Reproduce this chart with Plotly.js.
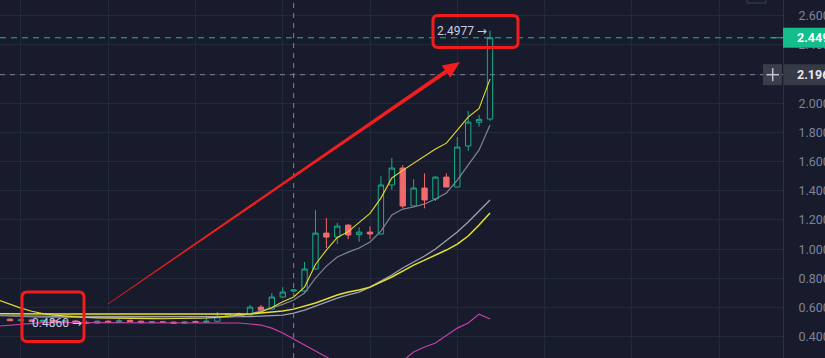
<!DOCTYPE html>
<html><head><meta charset="utf-8">
<script src="https://cdn.plot.ly/plotly-3.0.1.min.js"></script>
<style>html,body{margin:0;padding:0;background:#171b2c;overflow:hidden}#chart{width:825px;height:358px}</style>
</head><body><div id="chart"></div>
<script>
// ---- data ----
const candleIndex = [1,2,3,4,5,6,7,8,9,10,11,12,13,14,15,16,17,18,19,20,21,22,23,24,25,26,27,28,29,30,31,32,33,34,35,36,37,38,39,40,41,42,43,44,45];
const opens  = [0.520,0.510,0.515,0.505,0.512,0.503,0.508,0.498,0.494,0.506,0.500,0.512,0.506,0.496,0.502,0.500,0.493,0.504,0.499,0.506,0.540,0.558,
                0.549,0.603,0.589,0.672,0.713,0.713,0.864,1.110,1.083,1.165,1.100,1.117,1.104,1.440,1.556,1.296,1.419,1.344,1.494,1.426,1.707,1.870,1.892];
const highs  = [0.526,0.521,0.520,0.518,0.516,0.514,0.512,0.510,0.512,0.512,0.522,0.518,0.510,0.508,0.506,0.504,0.505,0.510,0.545,0.570,0.562,0.565,
                0.617,0.617,0.699,0.740,0.722,0.912,1.268,1.213,1.180,1.170,1.150,1.157,1.500,1.625,1.577,1.480,1.520,1.500,1.520,1.769,1.947,1.920,2.4977];
const lows   = [0.506,0.503,0.500,0.498,0.495,0.492,0.490,0.486,0.490,0.496,0.498,0.500,0.490,0.492,0.494,0.489,0.490,0.496,0.497,0.503,0.535,0.546,
                0.545,0.562,0.585,0.665,0.705,0.700,0.860,1.008,1.035,1.069,1.050,1.069,1.100,1.406,1.282,1.290,1.280,1.330,1.426,1.426,1.673,1.840,1.880];
const closes = [0.510,0.515,0.505,0.512,0.503,0.508,0.498,0.494,0.506,0.500,0.508,0.504,0.496,0.502,0.498,0.493,0.500,0.499,0.506,0.540,0.556,0.550,
                0.603,0.582,0.672,0.706,0.720,0.864,1.110,1.083,1.158,1.097,1.117,1.104,1.440,1.556,1.296,1.419,1.337,1.494,1.426,1.700,1.871,1.890,2.449];

const maIndex = [0,1,2,3,4,5,6,7,8,9,10,11,12,13,14,15,16,17,18,19,20,21,22,23,24,25,26,27,28,29,30,31,32,33,34,35,36,37,38,39,40,41,42,43,44,45];
const maFast  = [0.650,0.622,0.596,0.574,0.558,0.548,0.541,0.536,0.532,0.529,0.527,0.526,0.526,0.525,0.524,0.523,0.523,0.524,0.526,0.528,0.533,0.540,0.547,
                 0.556,0.569,0.600,0.640,0.672,0.740,0.895,0.994,1.080,1.120,1.180,1.245,1.350,1.488,1.540,1.590,1.640,1.686,1.727,1.816,1.905,1.965,2.166];
const maMid   = [0.548,0.543,0.539,0.536,0.534,0.533,0.532,0.531,0.530,0.530,0.529,0.529,0.529,0.528,0.528,0.527,0.527,0.527,0.527,0.528,0.530,0.534,0.540,
                 0.556,0.575,0.598,0.622,0.651,0.699,0.802,0.884,0.946,0.980,1.008,1.049,1.124,1.234,1.275,1.289,1.310,1.344,1.385,1.474,1.577,1.680,1.851];
const maSlow  = [0.545,0.543,0.542,0.541,0.540,0.540,0.539,0.539,0.538,0.538,0.537,0.537,0.536,0.536,0.536,0.535,0.535,0.535,0.535,0.535,0.535,0.536,0.537,
                 0.538,0.541,0.543,0.548,0.562,0.582,0.610,0.637,0.665,0.686,0.706,0.740,0.782,0.823,0.871,0.912,0.953,1.001,1.056,1.117,1.186,1.261,1.337];
const maTrend = [0.558,0.557,0.557,0.556,0.556,0.556,0.556,0.556,0.556,0.556,0.556,0.556,0.556,0.556,0.556,0.556,0.556,0.556,0.556,0.556,0.556,0.556,0.556,
                 0.556,0.562,0.569,0.576,0.589,0.610,0.631,0.658,0.686,0.706,0.720,0.740,0.775,0.809,0.850,0.891,0.925,0.960,0.994,1.035,1.090,1.165,1.248];
const maPink  = [0.473,0.480,0.487,0.493,0.496,0.497,0.497,0.497,0.497,0.497,0.497,0.497,0.497,0.497,0.497,0.497,0.497,0.497,0.497,0.497,0.497,0.496,0.494,
                 0.487,0.480,0.459,0.425,0.384,0.343,0.302,0.261,0.220,0.190,0.172,0.168,0.178,0.200,0.235,0.295,0.329,0.357,0.405,0.459,0.494,0.555,0.521];

const lastPrice = 2.449;
const crossPrice = 2.196;
const crossIndex = 27;
const yTickValues = [0.4,0.6,0.8,1.0,1.2,1.4,1.6,1.8,2.0,2.2,2.4,2.6];

// ---- style ----
const BG = '#171b2c', GRID = '#23283b', AXIS = '#2c3143';
const GREEN = '#17ad86', RED = '#ef6a6c', LABELGREEN = '#14bd8c';
const W = 825, H = 358, PW = 783, PH = 358;

const hiMax = Math.max(...highs), hiIdx = candleIndex[highs.indexOf(hiMax)];
const loMin = Math.min(...lows), loIdx = candleIndex[lows.indexOf(loMin)];

function px(x){return x/PW;} function py(y){return 1-y/PH;}
function rrect(x0,y0,x1,y1,r){
  const P=(x,y)=>px(x).toFixed(5)+','+py(y).toFixed(5);
  return 'M'+P(x0+r,y0)+' L'+P(x1-r,y0)+' Q'+P(x1,y0)+' '+P(x1,y0+r)+' L'+P(x1,y1-r)+' Q'+P(x1,y1)+' '+P(x1-r,y1)+
    ' L'+P(x0+r,y1)+' Q'+P(x0,y1)+' '+P(x0,y1-r)+' L'+P(x0,y0+r)+' Q'+P(x0,y0)+' '+P(x0+r,y0)+' Z';
}
function arrowPath(sx,sy,tx,ty){
  const dx=tx-sx, dy=ty-sy, L=Math.hypot(dx,dy), ux=dx/L, uy=dy/L, nx=-uy, ny=ux;
  const hl=17, hw=7.5, bx=tx-hl*ux, by=ty-hl*uy;
  const pts=[[sx+nx*0.4,sy+ny*0.4],[bx+nx*2.1,by+ny*2.1],[bx+nx*hw,by+ny*hw],[tx,ty],[bx-nx*hw,by-ny*hw],[bx-nx*2.1,by-ny*2.1],[sx-nx*0.4,sy-ny*0.4]];
  return 'M'+pts.map(p=>px(p[0]).toFixed(5)+','+py(p[1]).toFixed(5)).join(' L')+' Z';
}

const lineTrace=(y,color,w)=>({type:'scatter',mode:'lines',x:maIndex,y:y,line:{color:color,width:w},hoverinfo:'skip'});

const data = [
  lineTrace(maPink,'#c940a8',1.2),
  lineTrace(maSlow,'#9da1b3',1.3),
  lineTrace(maTrend,'#e8e12a',1.5),
  lineTrace(maMid,'#7f8499',1.2),
  {type:'candlestick', x:candleIndex, open:opens, high:highs, low:lows, close:closes,
   increasing:{line:{color:GREEN,width:1}, fillcolor:BG},
   decreasing:{line:{color:RED,width:1}, fillcolor:RED},
   whiskerwidth:0, hoverinfo:'skip'},
  lineTrace(maFast,'#e3dc2c',1.1)
];

const shapes = [
  {type:'line', xref:'paper', yref:'y', x0:0, x1:1, y0:lastPrice, y1:lastPrice, line:{color:LABELGREEN,width:1,dash:'6px,5px'}},
  {type:'line', xref:'paper', yref:'y', x0:0, x1:1, y0:crossPrice, y1:crossPrice, line:{color:'#80848f',width:1,dash:'5px,5px'}},
  {type:'line', xref:'x', yref:'paper', x0:crossIndex, x1:crossIndex, y0:0, y1:1, line:{color:'#80848f',width:1,dash:'5px,5px'}},
  {type:'path', xref:'paper', yref:'paper', path:arrowPath(108,304,460,62), fillcolor:'#f01e1e', line:{width:0}},
  {type:'path', xref:'paper', yref:'paper', path:rrect(433,15.5,518,47.5,5), line:{color:'#f31c1c',width:3}, fillcolor:'rgba(0,0,0,0)'},
  {type:'path', xref:'paper', yref:'paper', path:rrect(22,292,84,341.5,5), line:{color:'#f31c1c',width:3}, fillcolor:'rgba(0,0,0,0)'},
  {type:'rect', xref:'paper', yref:'y', ysizemode:'pixel', yanchor:lastPrice, x0:1, x1:1.07, y0:-10, y1:10, fillcolor:LABELGREEN, line:{width:0}},
  {type:'line', xref:'paper', yref:'y', ysizemode:'pixel', yanchor:lastPrice, x0:px(772), x1:1, y0:0, y1:0, line:{color:LABELGREEN,width:1}},
  {type:'rect', xref:'paper', yref:'y', ysizemode:'pixel', yanchor:crossPrice, x0:1.001, x1:1.07, y0:-10.5, y1:10.5, fillcolor:'#363a47', line:{width:0}},
  {type:'rect', xref:'paper', yref:'y', ysizemode:'pixel', yanchor:crossPrice, x0:px(763), x1:px(782), y0:-10.5, y1:10.5, fillcolor:'#3a3e4b', line:{width:0}},
  {type:'line', xref:'paper', yref:'y', ysizemode:'pixel', yanchor:crossPrice, x0:px(766.5), x1:px(779), y0:0, y1:0, line:{color:'#c3c6ce',width:1.5}},
  {type:'line', xref:'paper', yref:'y', ysizemode:'pixel', yanchor:crossPrice, x0:px(772.7), x1:px(772.7), y0:-6.5, y1:6.5, line:{color:'#c3c6ce',width:1.5}},
  {type:'rect', xref:'paper', yref:'paper', x0:px(747), x1:px(766), y0:py(3), y1:1.03, line:{color:'#3b4052',width:1}, fillcolor:'rgba(0,0,0,0)'}
];

const annotations = [
  {xref:'x', yref:'y', x:hiIdx, y:hiMax, xanchor:'right', yanchor:'middle', xshift:-1, showarrow:false,
   text:hiMax.toFixed(4)+' →', font:{size:12,color:'#c8cee2'}},
  {xref:'x', yref:'y', x:loIdx, y:loMin, xanchor:'right', yanchor:'middle', xshift:-2, yshift:1, showarrow:false,
   text:loMin.toFixed(4)+' →', font:{size:12,color:'#c8cee2'}},
  {xref:'paper', yref:'y', x:1, y:lastPrice, xanchor:'left', yanchor:'middle', xshift:12, showarrow:false,
   text:lastPrice.toFixed(3), font:{size:12.5,color:'#ffffff',weight:'bold'}},
  {xref:'paper', yref:'y', x:1, y:crossPrice, xanchor:'left', yanchor:'middle', xshift:12, showarrow:false,
   text:crossPrice.toFixed(3), font:{size:12.5,color:'#e6e8ee',weight:'bold'}}
];

const layout = {
  width:W, height:H,
  margin:{l:0, r:W-PW, t:0, b:0, pad:0},
  paper_bgcolor:BG, plot_bgcolor:BG, showlegend:false,
  font:{family:'Roboto, "DejaVu Sans", sans-serif', size:12, color:'#7d8399'},
  xaxis:{range:[0.08,71.86], showgrid:true, gridcolor:GRID, gridwidth:1, tick0:2, dtick:8, showticklabels:false,
         ticks:'', zeroline:false, showline:false, rangeslider:{visible:false}, fixedrange:true},
  yaxis:{side:'right', range:[0.254,2.708], tickvals:yTickValues, tickformat:'.3f', showgrid:true, gridcolor:GRID,
         zeroline:false, showline:true, linecolor:AXIS, linewidth:1, ticks:'', ticklabelstandoff:12,
         tickfont:{size:12.5,color:'#7d8399'}, fixedrange:true},
  shapes:shapes, annotations:annotations
};

Plotly.newPlot('chart', data, layout, {staticPlot:true, displayModeBar:false});
</script></body></html>
